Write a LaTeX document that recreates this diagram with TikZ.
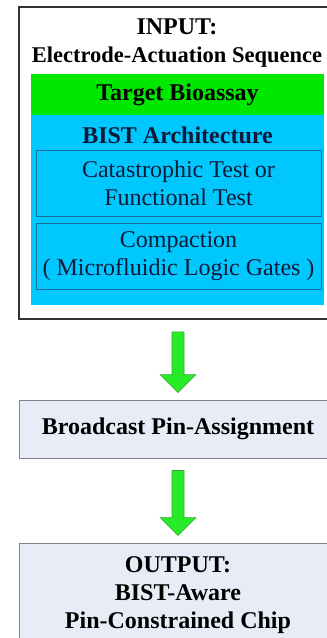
\documentclass[tikz,border=0pt]{standalone}
\usepackage{fontspec}
\setmainfont{Liberation Serif}
\usetikzlibrary{calc}
\definecolor{assaygreen}{RGB}{0,232,0}
\definecolor{bistcyan}{RGB}{0,200,255}
\definecolor{testedge}{RGB}{20,110,150}
\definecolor{stepfill}{RGB}{232,236,246}
\definecolor{stepedge}{RGB}{130,130,135}
\definecolor{navytext}{RGB}{15,25,55}
\definecolor{arrowfill}{RGB}{40,235,40}
\definecolor{arrowedge}{RGB}{60,160,60}
\tikzset{
  txt/.style={font=\fontsize{24}{28}\selectfont, align=center, inner sep=0pt},
  boldtxt/.style={txt, font=\fontsize{24}{28}\selectfont\bfseries},
  outerbox/.style={draw=black!80, line width=1.6pt, fill=white, inner sep=0pt},
  assaybox/.style={fill=assaygreen, inner sep=0pt, boldtxt},
  bistbox/.style={fill=bistcyan, inner sep=0pt},
  testbox/.style={draw=testedge, line width=0.6pt, fill=bistcyan, txt, text=navytext},
  stepbox/.style={draw=stepedge, line width=0.9pt, fill=stepfill, boldtxt},
  flowarrow/.style={fill=arrowfill, draw=arrowedge, line width=0.6pt, line join=miter}
}
\def\greenarrow(#1)(#2){\filldraw[flowarrow] ($(#1.south)+(-6,12)$) -- ($(#2.north)+(-6,-25)$) -- ($(#2.north)+(-18,-25)$) -- ($(#2.north)+(0,-7)$) -- ($(#2.north)+(18,-25)$) -- ($(#2.north)+(6,-25)$) -- ($(#1.south)+(6,12)$) -- cycle;}

\begin{document}
\begin{tikzpicture}[x=1pt, y=-1pt]
			%%%%% START %%%%%
			\path[use as bounding box, clip] (0,0) rectangle (327,638);
			\fill[white] (0,0) rectangle (327,638);
			
			% input block
			\node[outerbox, minimum width=318, minimum height=312] (input) at (178,163) {};
			\node[boldtxt] (inputlbl) at (177,43) {INPUT:\\{\fontsize{22.5}{28}\selectfont Electrode-Actuation Sequence}};
			\node[assaybox, minimum width=293, minimum height=41] (assay) at (177.5,94.5) {Target Bioassay};
			\node[bistbox, minimum width=293, minimum height=190] (bist) at (177.5,210) {};
			\node[boldtxt, text=navytext] (bistlbl) at (177.5,135) {BIST Architecture};
			\node[testbox, minimum width=285, minimum height=66] (cattest) at (178.5,183) {Catastrophic Test or\\Functional Test};
			\node[testbox, minimum width=285, minimum height=66] (compact) at (178.5,256) {Compaction\\( Microfluidic Logic Gates )};
			
			% pin assignment and output
			\node[stepbox, minimum width=318, minimum height=58] (pins) at (178,429) {Broadcast Pin-Assignment};
			\node[stepbox, minimum width=318, minimum height=104] (output) at (178,595) {OUTPUT:\\BIST-Aware\\Pin-Constrained Chip};
			
			\greenarrow(input)(pins)
			\greenarrow(pins)(output)
			%%%%% END %%%%%
\end{tikzpicture}
\end{document}
